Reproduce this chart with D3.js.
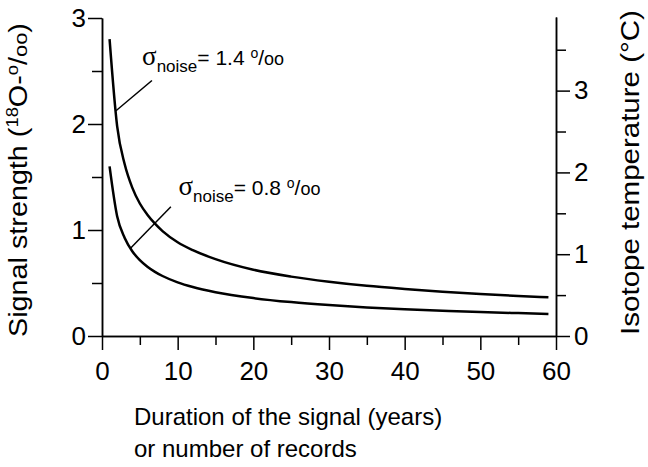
<!DOCTYPE html>
<html>
<head>
<meta charset="utf-8">
<script src="https://cdn.jsdelivr.net/npm/d3@7"></script>
<style>
  body { margin: 0; background: #fff; }
  text { font-family: "Liberation Sans", Arial, sans-serif; fill: #000; }
</style>
</head>
<body>
<svg id="chart" width="648" height="467"></svg>
<script>
// Duration of signal (years) / number of records
const durations = [1, 2, 3, 4, 5, 6, 7, 8, 10, 12, 15, 20, 25, 30, 35, 40, 45, 50, 55, 59];
// signal strength, sigma_noise = 1.4 o/oo
const signalHigh = [2.80, 1.98, 1.62, 1.40, 1.25, 1.145, 1.06, 0.99, 0.885, 0.81, 0.725, 0.625, 0.56, 0.512, 0.473, 0.443, 0.417, 0.396, 0.378, 0.365];
// signal strength, sigma_noise = 0.8 o/oo
const signalLow = [1.60, 1.13, 0.925, 0.80, 0.715, 0.653, 0.605, 0.566, 0.506, 0.462, 0.413, 0.358, 0.32, 0.292, 0.27, 0.253, 0.239, 0.226, 0.216, 0.208];

const xTicks = [0, 10, 20, 30, 40, 50, 60];
const xMinor = [5, 15, 25, 35, 45, 55];
const yTicks = [0, 1, 2, 3];
const yMinor = [0.5, 1.5, 2.5];
const tTicks = [0, 1, 2, 3];
const tMinor = [0.5, 1.5, 2.5, 3.5];

// annotation labels: noise level, label pos (n, value), leader start, leader end
const labels = [
  { noise: '1.4', at: [5.3, 2.56], from: [1.85, 2.125], to: [6.6, 2.41] },
  { noise: '0.8', at: [10.1, 1.33], from: [3.8, 0.83], to: [9.1, 1.22] }
];

const svg = d3.select('#chart');

const x = d3.scaleLinear().domain([0, 60]).range([102, 556]);
const y = d3.scaleLinear().domain([0, 3]).range([336, 18]);
const yT = d3.scaleLinear().domain([0, 3.9]).range([336, 17]);

const fmt = d3.format('d');

// axes
function styleAxis(g) {
  g.selectAll('path, line').attr('stroke', '#000').attr('stroke-width', 1.5);
  g.selectAll('text').style('font-size', '26px').attr('fill', '#000');
}

svg.append('g')
  .attr('transform', `translate(0,${y(0)})`)
  .call(d3.axisBottom(x).tickValues(xMinor).tickSize(9).tickSizeOuter(0).tickFormat(''))
  .call(styleAxis);
svg.append('g')
  .attr('transform', `translate(0,${y(0)})`)
  .call(d3.axisBottom(x).tickValues(xTicks).tickSize(14).tickSizeOuter(0).tickPadding(12).tickFormat(fmt))
  .call(styleAxis);

svg.append('g')
  .attr('transform', `translate(${x(0)},0)`)
  .call(d3.axisLeft(y).tickValues(yMinor).tickSize(10).tickSizeOuter(0).tickFormat(''))
  .call(styleAxis);
svg.append('g')
  .attr('transform', `translate(${x(0)},0)`)
  .call(d3.axisLeft(y).tickValues(yTicks).tickSize(14).tickSizeOuter(0).tickPadding(2).tickFormat(fmt))
  .call(styleAxis);

svg.append('g')
  .attr('transform', `translate(${x(60)},0)`)
  .call(d3.axisRight(yT).tickValues(tMinor).tickSize(10).tickSizeOuter(0).tickFormat(''))
  .call(styleAxis);
svg.append('g')
  .attr('transform', `translate(${x(60)},0)`)
  .call(d3.axisRight(yT).tickValues(tTicks).tickSize(14).tickSizeOuter(0).tickPadding(4).tickFormat(fmt))
  .call(styleAxis);

// curves
const line = d3.line()
  .x((d, i) => x(durations[i]))
  .y((d) => y(d))
  .curve(d3.curveMonotoneX);

[signalHigh, signalLow].forEach((s) => {
  svg.append('path')
    .attr('d', line(s))
    .attr('fill', 'none')
    .attr('stroke', '#000')
    .attr('stroke-width', 2.5);
});

// annotations
labels.forEach((l) => {
  svg.append('line')
    .attr('x1', x(l.from[0])).attr('y1', y(l.from[1]))
    .attr('x2', x(l.to[0])).attr('y2', y(l.to[1]))
    .attr('stroke', '#000').attr('stroke-width', 1.5);

  const t = svg.append('text')
    .attr('x', x(l.at[0])).attr('y', y(l.at[1]))
    .style('font-size', '21px');
  t.append('tspan').text('σ')
    .style('font-family', '"Liberation Serif", serif').style('font-size', '27px');
  t.append('tspan').text('noise').attr('dy', 7).style('font-size', '17px');
  t.append('tspan').text('= ' + l.noise + ' ').attr('dy', -7);
  t.append('tspan').text('o').attr('dy', -7).style('font-size', '14px');
  t.append('tspan').text('/').attr('dy', 7);
  t.append('tspan').text('oo').style('font-size', '18px');
});

// axis titles (stretched along their length like the reference)
function fitVertical(sel, cx, cy, len) {
  const w = sel.node().getBBox().width;
  sel.attr('transform', `translate(${cx},${cy}) rotate(-90) scale(${len / w},1)`);
}

const yTitle = svg.append('text')
  .attr('text-anchor', 'middle')
  .style('font-size', '25px');
yTitle.append('tspan').text('Signal strength (');
yTitle.append('tspan').text('18').attr('dy', -9).style('font-size', '16px');
yTitle.append('tspan').text('O-').attr('dy', 9);
yTitle.append('tspan').text('o').attr('dy', -9).style('font-size', '16px');
yTitle.append('tspan').text('/').attr('dy', 9);
yTitle.append('tspan').text('oo').style('font-size', '19px');
yTitle.append('tspan').text(')');
fitVertical(yTitle, 27, 180, 314);

const tTitle = svg.append('text')
  .attr('text-anchor', 'middle')
  .style('font-size', '25px')
  .text('Isotope temperature (°C)');
fitVertical(tTitle, 639, 172.5, 325);

svg.append('text')
  .attr('x', 134).attr('y', 425)
  .style('font-size', '24px')
  .text('Duration of the signal (years)');
svg.append('text')
  .attr('x', 134).attr('y', 457)
  .style('font-size', '24px')
  .text('or number of records');
</script>
</body>
</html>
